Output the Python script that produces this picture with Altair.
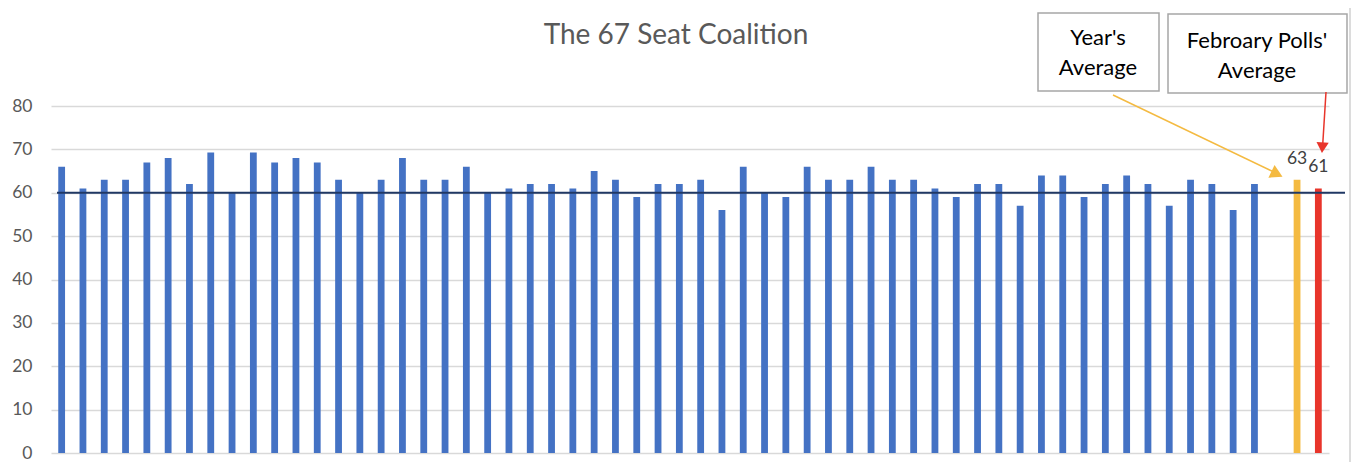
import altair as alt
import pandas as pd

# ---- data ----
poll_values = [66, 61, 63, 63, 67, 68, 62, 69.3, 60, 69.3, 67, 68, 67, 63, 60, 63, 68, 63, 63,
               66, 60, 61, 62, 62, 61, 65, 63, 59, 62, 62, 63, 56, 66, 60, 59, 66, 63, 63, 66, 63,
               63, 61, 59, 62, 62, 57, 64, 64, 59, 62, 64, 62, 57, 63, 62, 56, 62]
poll_slots = [f"Poll {i + 1}" for i in range(len(poll_values))]
gap_slot = ["gap"]
avg_slots = ["Year's Average", "Febroary Polls' Average"]
avg_values = [63, 61]
threshold = [60]
y_ticks = [0, 10, 20, 30, 40, 50, 60, 70, 80]
title_text = "The 67 Seat Coalition"

kinds = ["poll", "year", "feb"]
kind_colors = ["#4472C4", "#F4BA41", "#E8352B"]

FONT = "Lato"

df = pd.DataFrame({
    "slot": poll_slots + avg_slots,
    "value": poll_values + avg_values,
    "kind": ["poll"] * len(poll_values) + ["year", "feb"],
})
labels_df = pd.DataFrame({"slot": avg_slots, "value": avg_values})
thr_df = pd.DataFrame({"value": threshold})
one = pd.DataFrame({"a": [0]})

domain = poll_slots + gap_slot + avg_slots

x_enc = alt.X("slot:N", sort=None, axis=None,
              scale=alt.Scale(domain=domain, paddingInner=0, paddingOuter=0))
y_scale = alt.Scale(domain=[0, 80], nice=False)

bars = alt.Chart(df).mark_bar(size=6.8).encode(
    x=x_enc,
    y=alt.Y("value:Q", scale=y_scale, title=None,
            axis=alt.Axis(values=y_ticks, grid=True, gridColor="#D9D9D9", gridWidth=1.5,
                          domain=False, ticks=False, labelPadding=19, labelFontSize=17.5,
                          labelColor="#595959", labelFont=FONT)),
    color=alt.Color("kind:N", legend=None,
                    scale=alt.Scale(domain=kinds, range=kind_colors)),
)

thr = alt.Chart(thr_df).mark_rule(color="#203864", strokeWidth=2).encode(
    y=alt.Y("value:Q", scale=y_scale),
    x=alt.value(6), x2=alt.value(1294),
)

labels = alt.Chart(labels_df).mark_text(
    dy=-21, fontSize=17.5, color="#404040", font=FONT
).encode(x=x_enc, y=alt.Y("value:Q", scale=y_scale), text="value:Q")

title = alt.Chart(one).mark_text(fontSize=28, color="#595959", font=FONT,
                                 baseline="middle", align="center").encode(
    x=alt.value(625), y=alt.value(-70), text=alt.value(title_text))

# ---- annotation callouts ----
box1 = alt.Chart(one).mark_rect(fill="white", stroke="#A6A6A6", strokeWidth=1.5).encode(
    x=alt.value(987), x2=alt.value(1108), y=alt.value(-93), y2=alt.value(-15))
box2 = alt.Chart(one).mark_rect(fill="white", stroke="#A6A6A6", strokeWidth=1.5).encode(
    x=alt.value(1117), x2=alt.value(1296), y=alt.value(-92), y2=alt.value(-13))

def txt(s, x, y):
    return alt.Chart(one).mark_text(fontSize=22, color="#000000", font=FONT,
                                    baseline="middle", align="center").encode(
        x=alt.value(x), y=alt.value(y), text=alt.value(s))

t1 = txt("Year's", 1047, -68)
t2 = txt("Average", 1047, -38)
t3 = txt("Febroary Polls'", 1206, -65)
t4 = txt("Average", 1206, -35)

gold_line = alt.Chart(one).mark_rule(color="#F4BA41", strokeWidth=1.5).encode(
    x=alt.value(1062), y=alt.value(-11), x2=alt.value(1227), y2=alt.value(68))
gold_head = alt.Chart(one).mark_point(shape="triangle-right", size=200, filled=True,
                                      color="#F4BA41", opacity=1, angle=25.7).encode(
    x=alt.value(1226), y=alt.value(68))
red_line = alt.Chart(one).mark_rule(color="#E8352B", strokeWidth=1.5).encode(
    x=alt.value(1275), y=alt.value(-14), x2=alt.value(1271.5), y2=alt.value(42))
red_head = alt.Chart(one).mark_point(shape="triangle-down", size=150, filled=True,
                                     color="#E8352B", opacity=1, angle=3.7).encode(
    x=alt.value(1271.3), y=alt.value(41.7))

edge = alt.Chart(one).mark_rule(color="#D0D0D0", strokeWidth=1.5).encode(
    x=alt.value(1299), y=alt.value(-110), y2=alt.value(380))

chart = alt.layer(
    bars, thr, labels, title, edge, box1, box2, t1, t2, t3, t4,
    gold_line, gold_head, red_line, red_head,
).properties(
    width=1278, height=347,
    autosize=alt.AutoSizeParams(type="none"),
    padding={"left": 43, "top": 98, "right": 23, "bottom": 9},
).configure_view(stroke=None)

chart.save("out.html", embed_options={"renderer": "svg", "actions": False})
